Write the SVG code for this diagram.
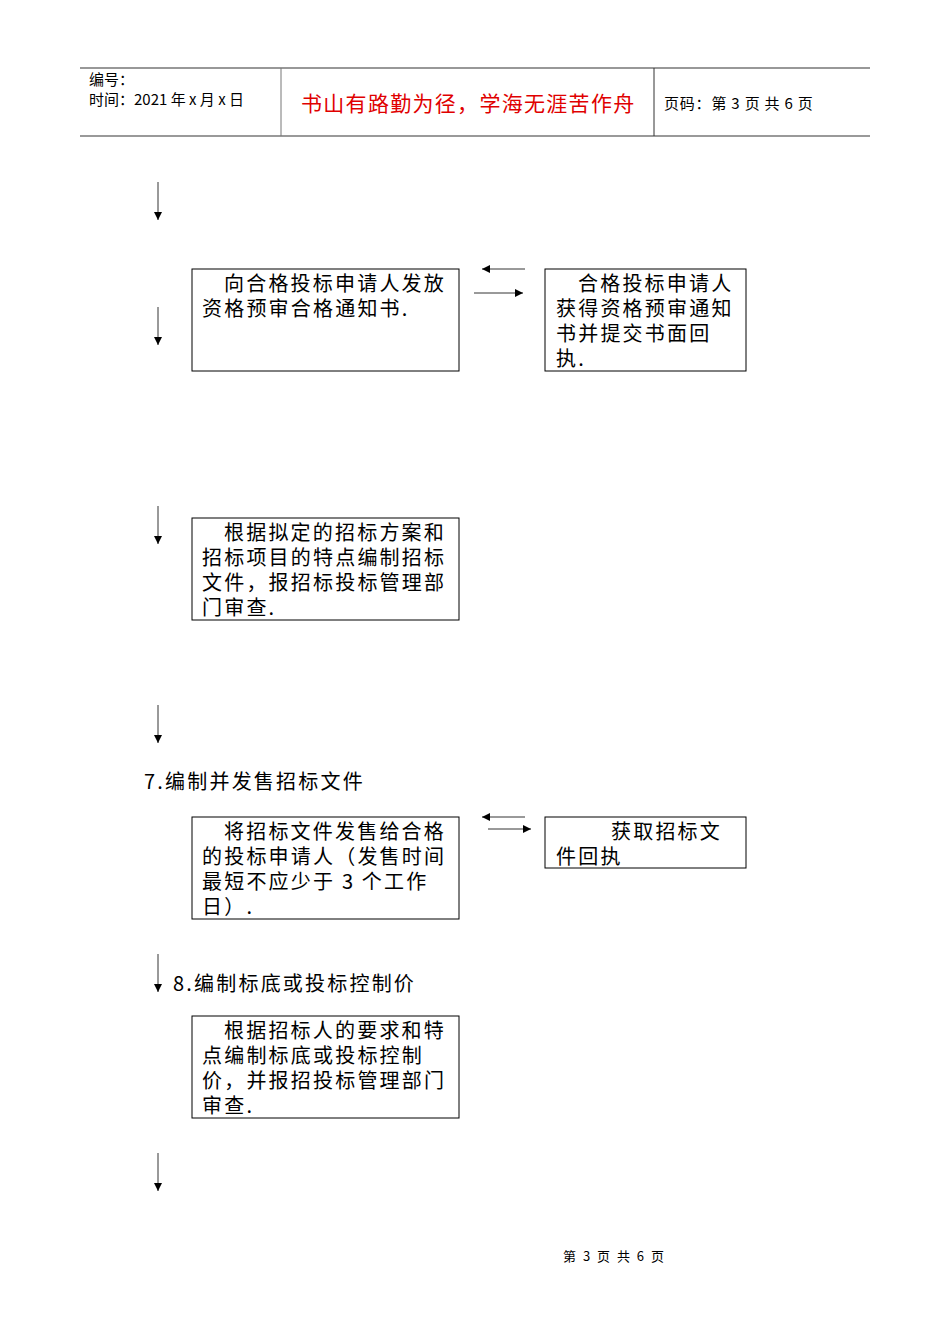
<svg xmlns="http://www.w3.org/2000/svg" width="950" height="1344" viewBox="0 0 950 1344">
<style>
text{font-family:"Noto Sans CJK SC","Liberation Sans",sans-serif;fill:#000}
.b{font-size:20px;letter-spacing:2.2px}
.box{fill:#fff;stroke:#000;stroke-width:1}
.ln{stroke:#000;stroke-width:0.8;fill:none}
</style>
<defs><marker id="ah" markerWidth="8" markerHeight="8" refX="8" refY="4" orient="auto" markerUnits="userSpaceOnUse"><path d="M0,0 L8,4 L0,8Z" fill="#000"/></marker></defs>
<rect width="950" height="1344" fill="#fff"/>
<g id="header">
<line x1="80" y1="68" x2="870" y2="68" stroke="#333" stroke-width="1.2"/>
<line x1="80" y1="136" x2="870" y2="136" stroke="#777" stroke-width="1.5"/>
<line x1="281" y1="68" x2="281" y2="136" stroke="#777"/>
<line x1="654" y1="68" x2="654" y2="136" stroke="#333"/>
<text x="89" y="85" font-size="15">编号：</text>
<text x="89" y="105" font-size="15">时间：2021 年 x 月 x 日</text>
<text x="301" y="111" font-size="21" letter-spacing="1.3" style="fill:#e00000">书山有路勤为径，学海无涯苦作舟</text>
<text x="664" y="109" font-size="15" letter-spacing="0.8">页码：第 3 页  共 6 页</text>
</g>
<g id="connectors">
<line class="ln" x1="158" y1="182" x2="158" y2="220" marker-end="url(#ah)"/>
<line class="ln" x1="158" y1="307" x2="158" y2="345" marker-end="url(#ah)"/>
<line class="ln" x1="158" y1="506" x2="158" y2="544" marker-end="url(#ah)"/>
<line class="ln" x1="158" y1="705" x2="158" y2="743" marker-end="url(#ah)"/>
<line class="ln" x1="158" y1="954" x2="158" y2="992" marker-end="url(#ah)"/>
<line class="ln" x1="158" y1="1153" x2="158" y2="1191" marker-end="url(#ah)"/>
<line class="ln" x1="525" y1="269" x2="482" y2="269" marker-end="url(#ah)"/>
<line class="ln" x1="474" y1="293" x2="523" y2="293" marker-end="url(#ah)"/>
<line class="ln" x1="525" y1="817" x2="482" y2="817" marker-end="url(#ah)"/>
<line class="ln" x1="488" y1="829" x2="531" y2="829" marker-end="url(#ah)"/>
</g>
<g id="n1"><rect class="box" x="192" y="269" width="267" height="102"/>
<text class="b" x="224" y="291">向合格投标申请人发放</text><text class="b" x="202" y="316">资格预审合格通知书.</text></g>
<g id="n2"><rect class="box" x="545" y="269" width="201" height="102"/>
<text class="b" x="578" y="291">合格投标申请人</text><text class="b" x="556" y="316">获得资格预审通知</text><text class="b" x="556" y="341">书并提交书面回</text><text class="b" x="556" y="366">执.</text></g>
<g id="n3"><rect class="box" x="192" y="518" width="267" height="102"/>
<text class="b" x="224" y="540">根据拟定的招标方案和</text><text class="b" x="202" y="565">招标项目的特点编制招标</text><text class="b" x="202" y="590">文件，报招标投标管理部</text><text class="b" x="202" y="615">门审查.</text></g>
<g id="s7"><text class="b" x="144" y="789">7.编制并发售招标文件</text></g>
<g id="n4"><rect class="box" x="192" y="817" width="267" height="102"/>
<text class="b" x="224" y="839">将招标文件发售给合格</text><text class="b" x="202" y="864">的投标申请人（发售时间</text><text class="b" x="202" y="889">最短不应少于 3 个工作</text><text class="b" x="202" y="914">日）.</text></g>
<g id="n5"><rect class="box" x="545" y="817" width="201" height="51"/>
<text class="b" x="611" y="839">获取招标文</text><text class="b" x="556" y="864">件回执</text></g>
<g id="s8"><text class="b" x="173" y="991">8.编制标底或投标控制价</text></g>
<g id="n6"><rect class="box" x="192" y="1016" width="267" height="102"/>
<text class="b" x="224" y="1038">根据招标人的要求和特</text><text class="b" x="202" y="1063">点编制标底或投标控制</text><text class="b" x="202" y="1088">价，并报招投标管理部门</text><text class="b" x="202" y="1113">审查.</text></g>
<g id="footer"><text x="563" y="1261" font-size="13" letter-spacing="2">第 3 页 共 6 页</text></g>
</svg>
